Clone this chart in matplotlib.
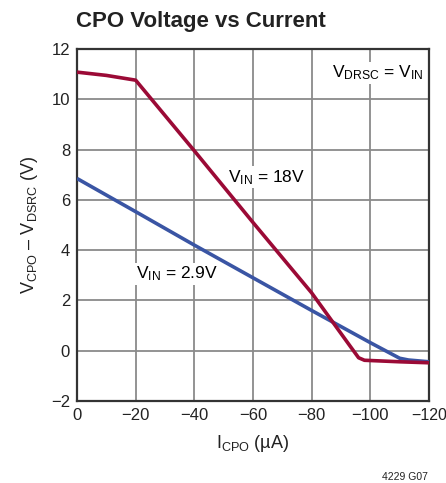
import matplotlib
matplotlib.use("Agg")
import matplotlib.pyplot as plt
from matplotlib import font_manager

# data
i_18 = [0, -10, -20, -40, -60, -80, -93, -96, -98, -110, -120]
v_18 = [11.08, 10.95, 10.76, 7.95, 5.1, 2.3, 0.2, -0.28, -0.38, -0.44, -0.48]
i_29 = [0, -20, -40, -60, -80, -100, -110, -113, -120]
v_29 = [6.85, 5.53, 4.2, 2.9, 1.6, 0.32, -0.3, -0.37, -0.44]

xticks = [0, -20, -40, -60, -80, -100, -120]
yticks = [-2, 0, 2, 4, 6, 8, 10, 12]

names = [f.name for f in font_manager.fontManager.ttflist]
fam = "Liberation Sans Narrow" if "Liberation Sans Narrow" in names else "Liberation Sans"
plt.rcParams["font.family"] = [fam, "DejaVu Sans"]
plt.rcParams["mathtext.fontset"] = "custom"
plt.rcParams["mathtext.rm"] = fam
plt.rcParams["mathtext.it"] = fam
plt.rcParams["axes.unicode_minus"] = True

fig = plt.figure(figsize=(4.46, 4.83), dpi=100)
ax = fig.add_axes([77/446, 1-401/483, 352/446, 352/483])

ax.plot(i_29, v_29, color="#3a55a4", lw=2.6, solid_capstyle="butt", zorder=3)
ax.plot(i_18, v_18, color="#9b0a36", lw=2.6, solid_capstyle="butt", zorder=4)

ax.set_xlim(0, -120)
ax.set_ylim(-2, 12)
ax.set_xticks(xticks)
ax.set_yticks(yticks)
ax.set_xticklabels([str(t).replace("-", "\u2212") for t in xticks])
ax.set_yticklabels([str(t).replace("-", "\u2212") for t in yticks])
ax.tick_params(length=0, labelsize=12, pad=5, colors="#222222")
# last x label hugs the right edge as in the reference
ax.get_xticklabels()[-1].set_horizontalalignment("right")
ax.get_xticklabels()[-1].set_x(-120)
ax.grid(True, color="#8a8a8a", lw=1.3)
ax.set_axisbelow(True)
for s in ax.spines.values():
    s.set_color("#333333")
    s.set_linewidth(1.6)

ax.set_xlabel(r"I$_{\mathrm{CPO}}$ (µA)", fontsize=13, labelpad=7, color="#222222")
ax.set_ylabel(r"V$_{\mathrm{CPO}}$ – V$_{\mathrm{DSRC}}$ (V)", fontsize=13, labelpad=8, color="#222222")

box = dict(facecolor="white", edgecolor="none", pad=1.0)
ax.text(-51.5, 6.9, r"V$_{\mathrm{IN}}$ = 18V", fontsize=12.5, ha="left", va="center", bbox=box, zorder=5)
ax.text(-20, 3.05, r"V$_{\mathrm{IN}}$ = 2.9V", fontsize=12.5, ha="left", va="center", bbox=box, zorder=5)
ax.text(-118, 11.05, r"V$_{\mathrm{DRSC}}$ = V$_{\mathrm{IN}}$", fontsize=12.5, ha="right", va="center", bbox=box, zorder=5)

fig.text(76/446, 1-21/483, "CPO Voltage vs Current", fontsize=16, fontweight="bold", ha="left", va="center", color="#222222")
fig.text(428/446, 1-477/483, "4229 G07", fontsize=7.5, ha="right", va="center", color="#222222")

fig.canvas.draw()
lab = ax.get_xticklabels()[-1]
lab.set_horizontalalignment("center")
lab.set_fontsize(11.5)

fig.savefig("out.png", dpi=100)
